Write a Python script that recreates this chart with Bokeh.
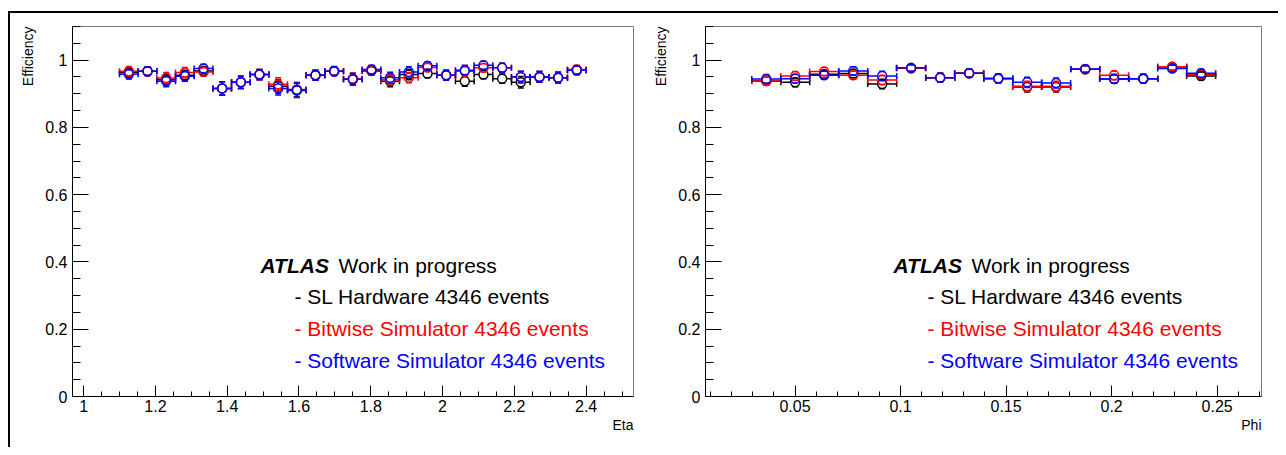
import numpy as np
from bokeh.plotting import figure
from bokeh.models import Range1d, FixedTicker, Label, Title, Div
from bokeh.layouts import row, column
from bokeh.embed import file_html
from bokeh.resources import INLINE

# ---------------- data ----------------
eta_centers = [1.126, 1.178, 1.230, 1.282, 1.334, 1.386, 1.438, 1.490, 1.542, 1.594,
               1.646, 1.698, 1.750, 1.802, 1.854, 1.906, 1.958, 2.010, 2.062, 2.114,
               2.166, 2.218, 2.270, 2.322, 2.374]
eta_halfwidth = 0.026
eta_hw_eff = [0.963, 0.967, 0.942, 0.955, 0.968, 0.916, 0.934, 0.957, 0.922, 0.910,
              0.955, 0.967, 0.943, 0.968, 0.937, 0.957, 0.960, 0.955, 0.937, 0.957,
              0.945, 0.934, 0.950, 0.948, 0.970]
eta_bw_eff = [0.967, 0.967, 0.947, 0.963, 0.965, 0.916, 0.934, 0.957, 0.928, 0.913,
              0.955, 0.968, 0.945, 0.970, 0.942, 0.948, 0.978, 0.955, 0.967, 0.977,
              0.977, 0.950, 0.950, 0.948, 0.972]
eta_sw_eff = [0.958, 0.967, 0.937, 0.952, 0.975, 0.916, 0.934, 0.957, 0.916, 0.911,
              0.955, 0.967, 0.943, 0.972, 0.948, 0.965, 0.983, 0.955, 0.970, 0.985,
              0.977, 0.950, 0.950, 0.948, 0.970]
eta_err = [0.014, 0.013, 0.016, 0.015, 0.013, 0.020, 0.018, 0.015, 0.020, 0.021,
           0.015, 0.013, 0.017, 0.013, 0.016, 0.015, 0.012, 0.015, 0.015, 0.012,
           0.014, 0.017, 0.016, 0.016, 0.013]

phi_centers = [0.0364, 0.0501, 0.0638, 0.0776, 0.0913, 0.1050, 0.1188, 0.1325,
               0.1463, 0.1600, 0.1737, 0.1875, 0.2012, 0.2150, 0.2287, 0.2424]
phi_halfwidth = 0.00687
phi_hw_eff = [0.938, 0.934, 0.958, 0.960, 0.929, 0.976, 0.948, 0.961,
              0.945, 0.920, 0.920, 0.973, 0.944, 0.945, 0.980, 0.953]
phi_bw_eff = [0.938, 0.953, 0.966, 0.955, 0.941, 0.976, 0.948, 0.962,
              0.945, 0.922, 0.922, 0.973, 0.955, 0.945, 0.980, 0.958]
phi_sw_eff = [0.944, 0.945, 0.955, 0.968, 0.953, 0.977, 0.948, 0.961,
              0.946, 0.934, 0.932, 0.974, 0.944, 0.945, 0.975, 0.961]
phi_err = [0.013, 0.013, 0.012, 0.012, 0.014, 0.010, 0.013, 0.012,
           0.013, 0.015, 0.015, 0.010, 0.013, 0.013, 0.010, 0.012]

eta_ticks = [1.0, 1.2, 1.4, 1.6, 1.8, 2.0, 2.2, 2.4]
phi_ticks = [0.05, 0.1, 0.15, 0.2, 0.25]
eff_ticks = [0.0, 0.2, 0.4, 0.6, 0.8, 1.0]

series_names = ["- SL Hardware 4346 events",
                "- Bitwise Simulator 4346 events",
                "- Software Simulator 4346 events"]
series_colors = ["#000000", "#ff0000", "#0000ff"]

FONT = "Liberation Sans"
LW = 1.5
MARKER = 9
FIG_H = 434
FRAME_H = 370


def make_panel(xr, centers, hw, effs, err, ticks, minor_step, xlabel,
               width, left, right):
    p = figure(width=width, height=FIG_H, output_backend="svg", toolbar_location=None,
               x_range=Range1d(*xr), y_range=Range1d(0, 1.1),
               min_border_left=left, min_border_right=right,
               min_border_top=13, min_border_bottom=FIG_H - 13 - FRAME_H)
    p.xgrid.visible = False
    p.ygrid.visible = False
    p.background_fill_color = "white"
    p.border_fill_color = "white"
    p.outline_line_color = "#777777"
    p.outline_line_width = 1

    frame_w = width - left - right
    gx = (MARKER / 2) * (xr[1] - xr[0]) / frame_w
    gy = (MARKER / 2) * 1.1 / FRAME_H

    # axes
    nmin = int(round((xr[1] - xr[0]) / minor_step)) + 2
    start = np.floor(xr[0] / minor_step) * minor_step
    xminor = [round(start + i * minor_step, 4) for i in range(nmin)]
    xminor = [m for m in xminor if xr[0] <= m <= xr[1]]
    p.xaxis.ticker = FixedTicker(ticks=ticks, minor_ticks=xminor)
    yminor = [round(0.05 * i, 3) for i in range(23)]
    p.yaxis.ticker = FixedTicker(ticks=eff_ticks, minor_ticks=yminor)
    for ax in (p.xaxis[0], p.yaxis[0]):
        ax.major_tick_out = 0
        ax.minor_tick_out = 0
        ax.axis_line_color = "black"
        ax.major_tick_line_color = "black"
        ax.minor_tick_line_color = "black"
        ax.major_label_text_font = FONT
        ax.major_label_text_font_size = "16px"
        ax.major_label_text_color = "black"
    p.xaxis.major_label_standoff = 3
    p.yaxis.major_label_standoff = 5
    p.xaxis.major_tick_in = 11
    p.xaxis.minor_tick_in = 5
    p.yaxis.major_tick_in = 16
    p.yaxis.minor_tick_in = 8
    p.xaxis.major_label_overrides = {1: "1", 2: "2"}
    p.yaxis.major_label_overrides = {0: "0", 1: "1"}

    x = np.array(centers)
    for eff, color in zip(effs, series_colors):
        y = np.array(eff)
        e = np.array(err)
        ey = np.maximum(e, gy)
        p.segment(x0=x - hw, y0=y, x1=x - gx, y1=y, line_color=color, line_width=LW)
        p.segment(x0=x + gx, y0=y, x1=x + hw, y1=y, line_color=color, line_width=LW)
        p.segment(x0=x, y0=y + gy, x1=x, y1=y + ey, line_color=color, line_width=LW)
        p.segment(x0=x, y0=y - ey, x1=x, y1=y - gy, line_color=color, line_width=LW)
        p.scatter(np.concatenate([x - hw, x + hw]), np.concatenate([y, y]),
                  marker="dash", angle=np.pi / 2, size=6, line_color=color, line_width=LW)
        p.scatter(np.concatenate([x, x]), np.concatenate([y - e, y + e]),
                  marker="dash", size=6, line_color=color, line_width=LW)
        p.scatter(x, y, marker="circle", size=MARKER, fill_color=None,
                  line_color=color, line_width=LW)

    # axis titles (ROOT style: at the ends of the axes)
    p.add_layout(Title(text="Efficiency", align="right", text_font=FONT,
                       text_font_size="14px", text_font_style="normal",
                       text_color="black", standoff=14), "left")
    p.add_layout(Title(text=xlabel, align="right", text_font=FONT,
                       text_font_size="14px", text_font_style="normal",
                       text_color="black", standoff=0), "below")

    # ATLAS legend text
    p.add_layout(Label(x=xr[0], y=0, x_offset=188, y_offset=131, text="ATLAS",
                       text_font=FONT, text_font_style="bold italic",
                       text_font_size="21px", text_baseline="alphabetic", text_color="black"))
    p.add_layout(Label(x=xr[0], y=0, x_offset=266, y_offset=131, text="Work in progress",
                       text_font=FONT, text_font_size="21px",
                       text_baseline="alphabetic", text_color="black"))
    for name, color, yo in zip(series_names, series_colors, [100, 68, 36]):
        p.add_layout(Label(x=xr[0], y=0, x_offset=222, y_offset=yo, text=name,
                           text_font=FONT, text_font_size="21px",
                           text_baseline="alphabetic", text_color=color))
    return p


p1 = make_panel((0.969, 2.532), eta_centers, eta_halfwidth,
                [eta_hw_eff, eta_bw_eff, eta_sw_eff], eta_err, eta_ticks, 0.05, "Eta",
                width=633, left=62, right=10)
p2 = make_panel((0.0076, 0.271), phi_centers, phi_halfwidth,
                [phi_hw_eff, phi_bw_eff, phi_sw_eff], phi_err, phi_ticks, 0.01, "Phi",
                width=635, left=60, right=17)

top_space = Div(width=1278, height=11, margin=0)
left_space = Div(width=8, height=436, margin=0)
top_line = Div(width=1268, height=2, margin=0, styles={"background-color": "black"})
left_line = Div(width=2, height=436, margin=0, styles={"background-color": "black"})
layout = column(top_space,
                row(left_space, left_line, column(top_line, row(p1, p2))))

open("out.html", "w").write(file_html(layout, INLINE))
